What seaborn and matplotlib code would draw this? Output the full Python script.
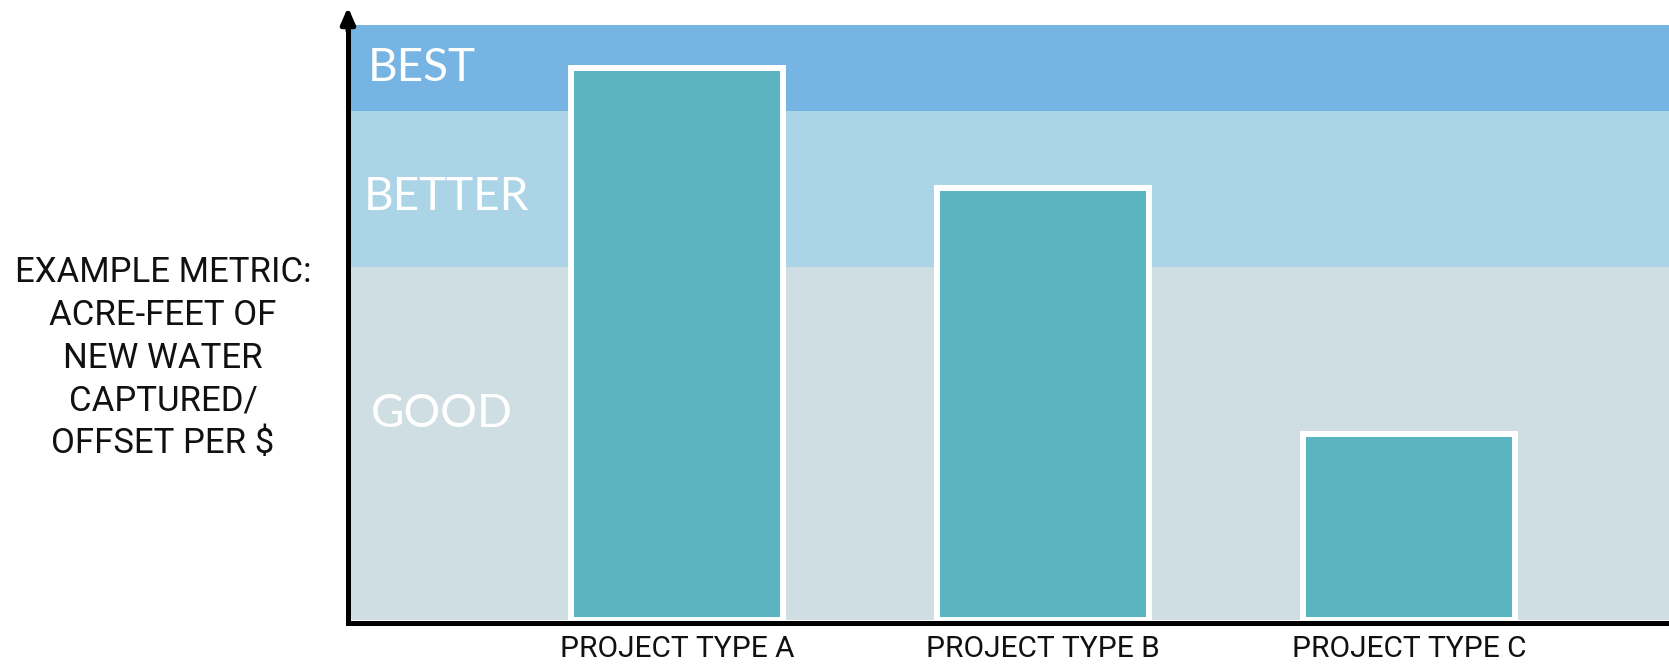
import matplotlib
matplotlib.use("Agg")
import matplotlib.pyplot as plt
import seaborn as sns
import pandas as pd

# Datos (escala 0-100)
proyectos = ['PROJECT TYPE A', 'PROJECT TYPE B', 'PROJECT TYPE C']
valores = [92.8, 72.6, 31.3]

# Limites de las bandas de calificacion
bandas = ['GOOD', 'BETTER', 'BEST']
limites = [0, 59.3, 85.5, 100]
colores_banda = ['#CFDEE3', '#ABD5E6', '#75B4E3']
etiqueta_y = 'EXAMPLE METRIC:\nACRE-FEET OF\nNEW WATER\nCAPTURED/\nOFFSET PER $'

df = pd.DataFrame({'proyecto': proyectos, 'valor': valores})

sns.set_theme(style="white")
plt.rcParams['font.family'] = ['Roboto', 'DejaVu Sans']

fig = plt.figure(figsize=(16.69, 6.65), dpi=100)
ax = fig.add_axes([0.2085, 0.0677, 0.7915, 0.8947])

# Bandas de fondo
for nombre, y0, y1, c in zip(bandas, limites[:-1], limites[1:], colores_banda):
    ax.axhspan(y0, y1, color=c, zorder=0, lw=0)

sns.barplot(data=df, x='proyecto', y='valor', color='#5AB5C0', width=0.58,
            edgecolor='white', linewidth=4.3, saturation=1, ax=ax, zorder=2)

ax.set_xlim(-0.90, 2.71)
ax.set_ylim(0, 100)
ax.set_xlabel('')
ax.set_ylabel('')
ax.set_yticks([])
ax.tick_params(axis='x', length=0, pad=9, labelsize=21.5, labelcolor='#111111')

for s in ['top', 'right']:
    ax.spines[s].set_visible(False)
ax.spines['left'].set_linewidth(3.6)
ax.spines['bottom'].set_linewidth(3.6)
ax.spines['left'].set_color('black')
ax.spines['bottom'].set_color('black')
ax.spines['bottom'].set_position(('outward', 2))

# Flecha del eje y
ax.annotate('', xy=(0, 1.03), xytext=(0, 0.99), xycoords='axes fraction',
            arrowprops=dict(arrowstyle='-|>,head_width=0.35,head_length=0.8',
                            color='black', lw=3.6, shrinkA=0, shrinkB=0),
            annotation_clip=False)

# Etiquetas de las bandas
pos_texto = {'BEST': (0.015, 90.6), 'BETTER': (0.012, 68.9), 'GOOD': (0.017, 32.4)}
for nombre in bandas:
    x, y = pos_texto[nombre]
    ax.text(x, y, nombre, transform=ax.get_yaxis_transform(), color='white',
            fontsize=33, family=['Lato', 'DejaVu Sans'], fontweight='normal',
            va='baseline', ha='left', zorder=3)

fig.text(163 / 1669, 1 - 358 / 665, etiqueta_y, ha='center', va='center',
         fontsize=25, linespacing=1.38, color='#111111')

fig.savefig('out.png', dpi=100)
